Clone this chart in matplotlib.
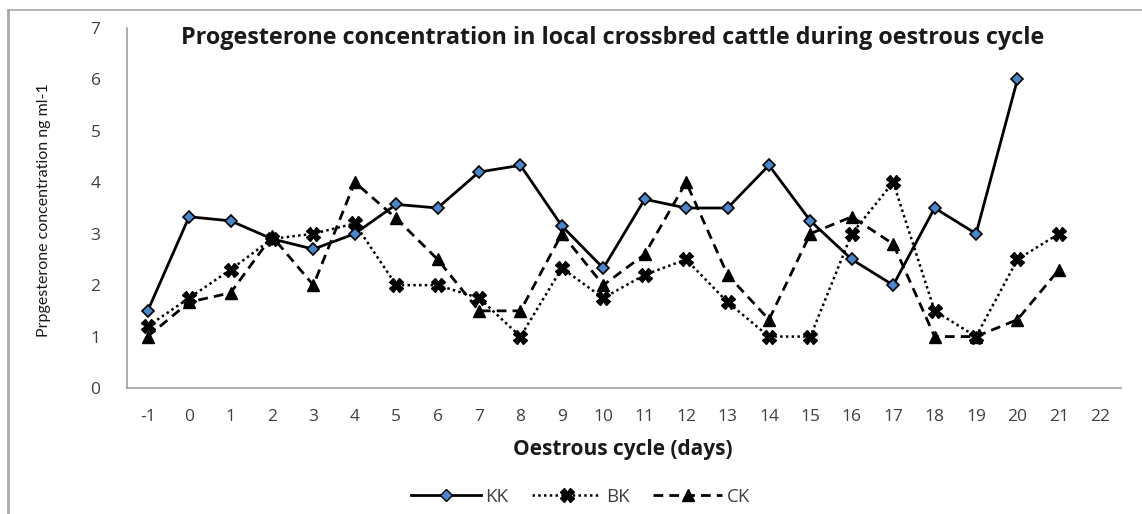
import matplotlib
matplotlib.use("Agg")
import matplotlib.pyplot as plt
from matplotlib.lines import Line2D
import numpy as np

plt.rcParams['font.family'] = ['Open Sans', 'DejaVu Sans']

days = [-1, 0, 1, 2, 3, 4, 5, 6, 7, 8, 9, 10, 11, 12, 13, 14, 15, 16, 17, 18, 19, 20, 21, 22]
kk = [1.5, 3.33, 3.25, 2.9, 2.7, 3.0, 3.57, 3.5, 4.2, 4.33, 3.15, 2.33, 3.67, 3.5, 3.5, 4.33, 3.25, 2.5, 2.0, 3.5, 3.0, 6.0]
bk = [1.2, 1.75, 2.3, 2.9, 3.0, 3.2, 2.0, 2.0, 1.75, 1.0, 2.33, 1.75, 2.2, 2.5, 1.67, 1.0, 1.0, 3.0, 4.0, 1.5, 1.0, 2.5, 3.0]
ck = [1.0, 1.67, 1.85, 2.95, 2.0, 4.0, 3.3, 2.5, 1.5, 1.5, 3.0, 2.0, 2.6, 4.0, 2.2, 1.33, 3.0, 3.33, 2.8, 1.0, 1.0, 1.33, 2.3]
yticks = [0, 1, 2, 3, 4, 5, 6, 7]

fig = plt.figure(figsize=(11.42, 5.14), dpi=100)
W, H = 1142, 514
ax = fig.add_axes([127 / W, 1 - 388 / H, (1121 - 127) / W, (388 - 28) / H])

ax.plot(days[:len(kk)], kk, color='black', lw=2.0, ls='-', marker='D', ms=6,
        mfc='#4a86c8', mec='black', mew=1.2, label='KK')
ax.plot(days[:len(bk)], bk, color='black', lw=1.8, ls=(0, (1, 1.3)), marker='X', ms=10,
        mfc='black', mec='black', label='BK')
ax.plot(days[:len(ck)], ck, color='black', lw=2.0, ls=(0, (3.5, 2.2)), marker='^', ms=8,
        mfc='black', mec='black', label='CK')

ax.set_xlim(-1.5, 22.5)
ax.set_ylim(0, 7)
ax.set_xticks(days)
ax.set_xticklabels([str(d) for d in days])
ax.set_yticks(yticks)
ax.tick_params(axis='both', length=0, labelsize=12.5, colors='#404040')
ax.tick_params(axis='x', pad=15)
ax.tick_params(axis='y', pad=19)
for s in ['top', 'right']:
    ax.spines[s].set_visible(False)
for s in ['left', 'bottom']:
    ax.spines[s].set_color('#a0a0a0')
    ax.spines[s].set_linewidth(1.2)

fig.text(613 / W, 1 - 38 / H, 'Progesterone concentration in local crossbred cattle during oestrous cycle',
         ha='center', va='center', fontsize=16.8, fontweight='bold', color='#1a1a1a')
fig.text(623 / W, 1 - 449 / H, 'Oestrous cycle (days)', ha='center', va='center',
         fontsize=15, fontweight='bold', color='#1a1a1a')
fig.text(44 / W, 1 - 210 / H, 'Prpgesterone concentration ng ml-1', ha='center', va='center',
         rotation=90, fontsize=11.5, color='#1a1a1a', family=['Liberation Sans Narrow', 'Lato', 'DejaVu Sans'])

handles = [
    Line2D([], [], color='black', lw=2.0, ls='-', marker='D', ms=6, mfc='#4a86c8', mec='black'),
    Line2D([], [], color='black', lw=1.8, ls=(0, (1, 1.3)), marker='X', ms=10, mfc='black', mec='black'),
    Line2D([], [], color='black', lw=2.0, ls=(0, (3.5, 2.2)), marker='^', ms=8, mfc='black', mec='black'),
]
leg = fig.legend(handles, ['KK', 'BK', 'CK'], loc='center', bbox_to_anchor=(581 / W, 1 - 497 / H),
                 ncol=3, frameon=False, fontsize=13.5, handlelength=3.7, columnspacing=1.25,
                 handletextpad=0.25)
for t in leg.get_texts():
    t.set_color('#404040')

# outer frame
fig.add_artist(Line2D([8 / W, 8 / W], [0, 1 - 10 / H], transform=fig.transFigure, color='#a8a8a8', lw=2))
fig.add_artist(Line2D([8 / W, 1], [1 - 10 / H, 1 - 10 / H], transform=fig.transFigure, color='#a8a8a8', lw=1.2))

fig.savefig('out.png', dpi=100)
